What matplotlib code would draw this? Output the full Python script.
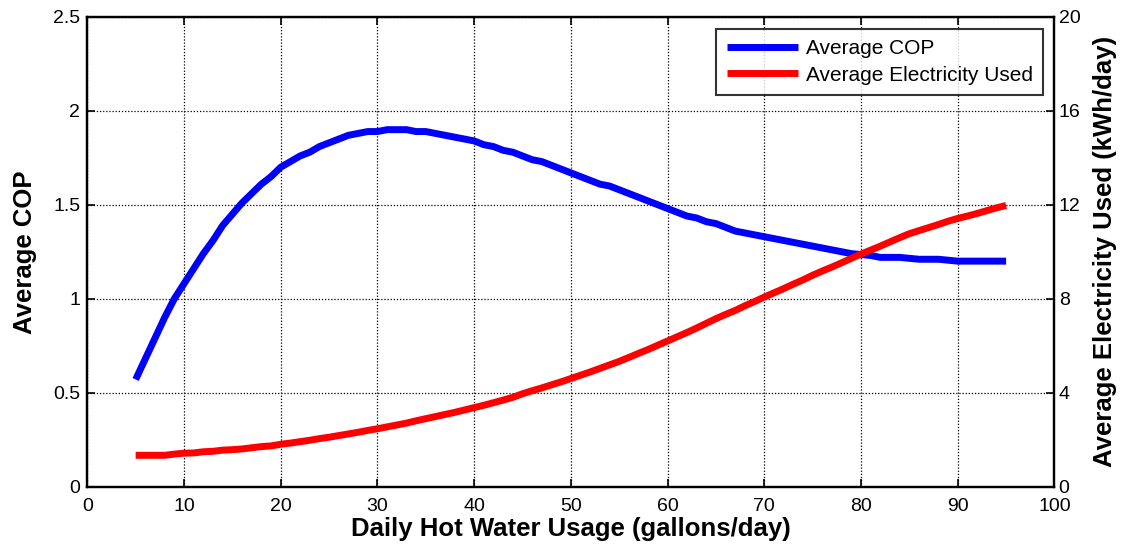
import matplotlib
matplotlib.use("Agg")
import matplotlib.pyplot as plt
import numpy as np

plt.rcParams['font.family'] = ['Liberation Sans', 'DejaVu Sans']

usage = list(range(5, 96))
cop = [0.57, 0.68, 0.79, 0.90, 1.00, 1.08, 1.16, 1.24, 1.31, 1.39,
       1.45, 1.51, 1.56, 1.61, 1.65, 1.70, 1.73, 1.76, 1.78, 1.81,
       1.83, 1.85, 1.87, 1.88, 1.89, 1.89, 1.90, 1.90, 1.90, 1.89,
       1.89, 1.88, 1.87, 1.86, 1.85, 1.84, 1.82, 1.81, 1.79, 1.78,
       1.76, 1.74, 1.73, 1.71, 1.69, 1.67, 1.65, 1.63, 1.61, 1.60,
       1.58, 1.56, 1.54, 1.52, 1.50, 1.48, 1.46, 1.44, 1.43, 1.41,
       1.40, 1.38, 1.36, 1.35, 1.34, 1.33, 1.32, 1.31, 1.30, 1.29,
       1.28, 1.27, 1.26, 1.25, 1.24, 1.235, 1.23, 1.22, 1.22, 1.22,
       1.215, 1.21, 1.21, 1.21, 1.205, 1.20, 1.20, 1.20, 1.20, 1.20,
       1.20]
elec = [1.33, 1.33, 1.33, 1.33, 1.38, 1.42, 1.43, 1.48, 1.50, 1.55,
        1.57, 1.60, 1.65, 1.70, 1.73, 1.80, 1.85, 1.91, 1.97, 2.04,
        2.10, 2.17, 2.24, 2.31, 2.39, 2.46, 2.54, 2.62, 2.70, 2.80,
        2.89, 2.98, 3.07, 3.16, 3.26, 3.36, 3.46, 3.57, 3.68, 3.80,
        3.95, 4.08, 4.20, 4.33, 4.46, 4.60, 4.74, 4.88, 5.03, 5.18,
        5.33, 5.50, 5.67, 5.84, 6.02, 6.20, 6.38, 6.56, 6.75, 6.95,
        7.15, 7.33, 7.50, 7.70, 7.88, 8.07, 8.25, 8.43, 8.62, 8.80,
        9.00, 9.18, 9.35, 9.53, 9.72, 9.90, 10.07, 10.24, 10.42, 10.60,
        10.77, 10.90, 11.03, 11.16, 11.30, 11.42, 11.52, 11.63, 11.75, 11.87,
        11.97]

x_ticks = [0, 10, 20, 30, 40, 50, 60, 70, 80, 90, 100]
cop_ticks = [0, 0.5, 1, 1.5, 2, 2.5]
cop_tick_labels = ['0', '0.5', '1', '1.5', '2', '2.5']
elec_ticks = [0, 4, 8, 12, 16, 20]

fig = plt.figure(figsize=(11.25, 5.55), dpi=100)
ax = fig.add_axes([0.0776, 0.1234, 0.8597, 0.846])
ax2 = ax.twinx()

l1, = ax.plot(usage, cop, color='#0000ff', lw=5, solid_capstyle='butt', label='Average COP')
l2, = ax2.plot(usage, elec, color='#ff0000', lw=5, solid_capstyle='butt', label='Average Electricity Used')

ax.set_xlim(0, 100)
ax.set_ylim(0, 2.5)
ax2.set_ylim(0, 20)
ax.set_xticks(x_ticks)
ax.set_xticklabels([str(t) for t in x_ticks])
ax.set_yticks(cop_ticks)
ax.set_yticklabels(cop_tick_labels)
ax2.set_yticks(elec_ticks)
ax2.set_yticklabels([str(t) for t in elec_ticks])

ax.grid(True, color='black', linestyle=(0, (1, 1.5)), linewidth=0.9)
ax.tick_params(axis='x', direction='in', length=6, width=1.2, labelsize=14, top=True, pad=8)
ax.tick_params(axis='y', direction='in', length=6, width=1.2, labelsize=14, right=False, pad=5)
ax2.tick_params(axis='y', direction='in', length=6, width=1.2, labelsize=14, pad=3)

for a in (ax, ax2):
    for s in a.spines.values():
        s.set_linewidth(1.6)

ax.set_xlabel('Daily Hot Water Usage (gallons/day)', fontsize=18.5, fontweight='bold', labelpad=2)
ax.set_ylabel('Average COP', fontsize=18.5, fontweight='bold', labelpad=12)
ax2.set_ylabel('Average Electricity Used (kWh/day)', fontsize=18.5, fontweight='bold', labelpad=9)

leg = ax2.legend(handles=[l1, l2], loc='upper right', bbox_to_anchor=(0.9886, 0.9744),
                 fontsize=15, frameon=True, fancybox=False, edgecolor='black',
                 handlelength=3.4, handletextpad=0.4, borderaxespad=0,
                 labelspacing=0.35, borderpad=0.5)
leg.get_frame().set_linewidth(1.5)

fig.savefig('out.png', dpi=100)
